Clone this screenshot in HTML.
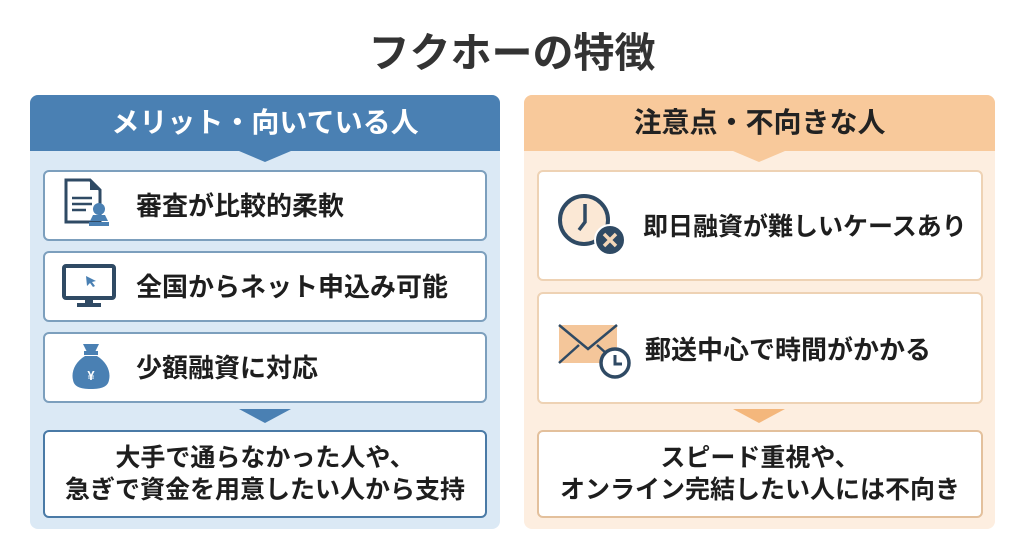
<!DOCTYPE html>
<html><head><meta charset="utf-8"><style>
*{margin:0;padding:0;box-sizing:border-box}
body{width:1024px;height:541px;background:#fff;font-family:"Liberation Sans","Noto Sans CJK JP",sans-serif;position:relative;overflow:hidden;color:#1e1e1e}
.abs{position:absolute}
.title{left:0;width:1024px;top:27px;text-align:center;font-size:41px;font-weight:bold;color:#333;line-height:52px}
.panel{top:95px;height:434px;border-radius:8px;overflow:hidden}
.hdr{left:0;top:0;right:0;height:56px;text-align:center;font-size:28px;font-weight:bold;line-height:56px}
.card{background:#fff;border-radius:6px;border:2px solid}
.ct{font-size:26px;font-weight:bold;line-height:32px;white-space:nowrap}
.bt{font-size:25px;font-weight:bold;line-height:32px;text-align:center;white-space:nowrap}
.tri{width:0;height:0;border-left:26px solid transparent;border-right:26px solid transparent}
</style></head><body>
<div class="abs title">フクホーの特徴</div>

<div class="abs panel" style="left:30px;width:470px;background:#dbe9f5">
 <div class="abs hdr" style="background:#4a80b3;color:#fff">メリット・向いている人</div>
 <div class="abs tri" style="left:209px;top:56px;border-top:11px solid #4a80b3"></div>
</div>
<div class="abs card" style="left:43px;top:170px;width:444px;height:71px;border-color:#7c9fbd"></div>
<div class="abs card" style="left:43px;top:251px;width:444px;height:71px;border-color:#7c9fbd"></div>
<div class="abs card" style="left:43px;top:332px;width:444px;height:71px;border-color:#7c9fbd"></div>
<div class="abs tri" style="left:239px;top:409px;border-top:14px solid #4a80b3"></div>
<div class="abs card" style="left:43px;top:430px;width:444px;height:88px;border-color:#4a7aa6"></div>
<div class="abs ct" style="left:136px;top:190px">審査が比較的柔軟</div>
<div class="abs ct" style="left:136px;top:271px">全国からネット申込み可能</div>
<div class="abs ct" style="left:136px;top:352px">少額融資に対応</div>
<div class="abs bt" style="left:43px;top:442px;width:444px">大手で通らなかった人や、<br>急ぎで資金を用意したい人から支持</div>
<svg class="abs" style="left:62px;top:178px" width="60" height="56">
 <path d="M4 2h24l10 10v32H4z" fill="#fff" stroke="#2f4a64" stroke-width="3"/>
 <path d="M28 2v10h10" fill="#2f4a64"/>
 <g stroke="#2f4a64" stroke-width="2.5"><line x1="10" y1="20" x2="30" y2="20"/><line x1="10" y1="26" x2="30" y2="26"/><line x1="10" y1="32" x2="24" y2="32"/></g>
 <circle cx="37" cy="31" r="6" fill="#4a80b3"/><path d="M31 37h12l3 6H28z" fill="#4a80b3"/><rect x="27" y="44" width="20" height="4" fill="#4a80b3"/>
</svg>
<svg class="abs" style="left:62px;top:264px" width="56" height="46">
 <rect x="2" y="2" width="50" height="32" rx="2" fill="#fff" stroke="#2f4a64" stroke-width="4"/>
 <path d="M24 12l10 5-4 1 3 4-2 1-3-4-3 3z" fill="#4a80b3"/>
 <rect x="23" y="34" width="8" height="6" fill="#2f4a64"/><rect x="15" y="39" width="24" height="4" fill="#2f4a64"/>
</svg>
<svg class="abs" style="left:68px;top:340px" width="46" height="52">
 <path d="M15 4h16l-4 8h-8z" fill="#4a80b3"/><rect x="16" y="11" width="14" height="4" fill="#4a80b3"/>
 <path d="M17 16h12c10 6 14 16 12 24-1 6-6 9-18 9s-17-3-18-9c-2-8 2-18 12-24z" fill="#4a80b3"/>
 <text x="23" y="40" text-anchor="middle" font-size="13" font-weight="bold" fill="#fff" font-family="Liberation Sans">¥</text>
</svg>

<div class="abs panel" style="left:524px;width:471px;background:#fdeee0">
 <div class="abs hdr" style="background:#f8c99b;color:#222">注意点・不向きな人</div>
 <div class="abs tri" style="left:209px;top:56px;border-top:11px solid #f8c99b"></div>
</div>
<div class="abs card" style="left:537px;top:170px;width:446px;height:111px;border-color:#eed2b4"></div>
<div class="abs card" style="left:537px;top:292px;width:446px;height:112px;border-color:#eed2b4"></div>
<div class="abs tri" style="left:733px;top:409px;border-top:14px solid #f4b77c"></div>
<div class="abs card" style="left:537px;top:430px;width:446px;height:88px;border-color:#e3c09c"></div>
<div class="abs ct" style="left:643px;top:211px;font-size:25px">即日融資が難しいケースあり</div>
<div class="abs ct" style="left:645px;top:334px">郵送中心で時間がかかる</div>
<div class="abs bt" style="left:537px;top:442px;width:446px">スピード重視や、<br>オンライン完結したい人には不向き</div>
<svg class="abs" style="left:558px;top:192px" width="74" height="70">
 <circle cx="26" cy="28" r="24" fill="#fbe8d5" stroke="#2f4a64" stroke-width="4"/>
 <path d="M27 12v18l-6 8" fill="none" stroke="#2f4a64" stroke-width="3.5"/>
 <circle cx="52" cy="48" r="15" fill="#2f4a64" stroke="#fff" stroke-width="2"/>
 <path d="M46 42l12 12M58 42l-12 12" stroke="#f3d6b8" stroke-width="3.5"/>
</svg>
<svg class="abs" style="left:556px;top:322px" width="80" height="60">
 <rect x="3" y="3" width="58" height="38" fill="#f4c69a"/>
 <path d="M3 3l29 24 29-24M3 41l20-18M61 41l-20-18" fill="none" stroke="#2f4a64" stroke-width="2.5"/>
 <circle cx="59" cy="41" r="14" fill="#fff" stroke="#2f4a64" stroke-width="3.5"/>
 <path d="M59 33v9h7" fill="none" stroke="#2f4a64" stroke-width="3"/>
</svg>
</body></html>
